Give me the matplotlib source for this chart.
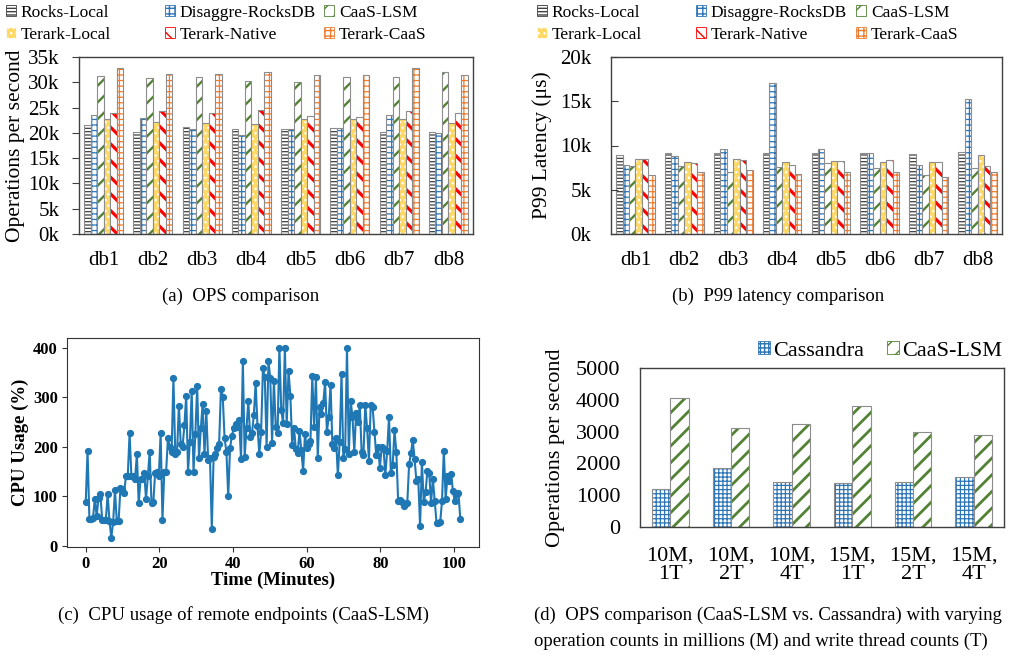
import numpy as np
import matplotlib
matplotlib.use('Agg')
import matplotlib.pyplot as plt
from matplotlib.patches import Patch
from matplotlib.ticker import FuncFormatter

plt.rcParams['font.family'] = ['Liberation Serif', 'DejaVu Serif']
plt.rcParams['hatch.linewidth'] = 1.0

# ---------------- data ----------------
dbs = ['db1', 'db2', 'db3', 'db4', 'db5', 'db6', 'db7', 'db8']
series_names = ['Rocks-Local', 'Disaggre-RocksDB', 'CaaS-LSM',
                'Terark-Local', 'Terark-Native', 'Terark-CaaS']

ops_rocks_local = [21600, 20200, 21100, 20700, 20700, 20900, 20200, 20100]
ops_disaggre = [23500, 23000, 20700, 19600, 20700, 20900, 23500, 19900]
ops_caas_lsm = [31200, 30800, 31000, 30200, 30100, 31000, 31000, 32100]
ops_terark_local = [22700, 22200, 22000, 21800, 22700, 22700, 22700, 22000]
ops_terark_native = [23900, 24300, 23900, 24600, 23400, 23200, 24400, 23900]
ops_terark_caas = [32900, 31700, 31600, 32100, 31400, 31400, 32900, 31400]

lat_rocks_local = [8950, 9200, 9140, 9180, 9180, 9140, 9030, 9250]
lat_disaggre = [7830, 8840, 9590, 17100, 9590, 9140, 7830, 15300]
lat_caas_lsm = [7700, 7640, 7040, 7570, 8000, 7420, 6700, 7490]
lat_terark_local = [8460, 8090, 8460, 8130, 8240, 8090, 8160, 8950]
lat_terark_native = [8460, 7980, 8310, 7830, 8240, 8350, 8160, 7720]
lat_terark_caas = [6630, 7040, 7270, 6820, 7040, 7040, 6440, 6970]

cpu_sample_interval_min = 0.496
cpu_usage = [88, 192, 55, 55, 57, 95, 60, 97, 105, 53,
             52, 53, 104, 50, 17, 48, 112, 50, 50, 117,
             115, 107, 140, 140, 227, 140, 140, 135, 185, 86,
             135, 135, 148, 95, 140, 190, 86, 88, 148, 150,
             140, 227, 53, 150, 150, 217, 200, 190, 338, 185,
             190, 283, 205, 200, 243, 303, 150, 210, 313, 150,
             225, 323, 178, 237, 287, 185, 273, 173, 178, 35,
             180, 185, 197, 205, 316, 300, 217, 190, 100, 198,
             222, 237, 245, 240, 253, 175, 373, 180, 238, 292,
             220, 227, 263, 328, 242, 185, 230, 358, 340, 200,
             372, 338, 207, 332, 240, 228, 400, 275, 248, 400,
             245, 352, 303, 203, 238, 195, 187, 232, 193, 152,
             225, 197, 205, 212, 342, 240, 340, 177, 280, 265,
             288, 330, 230, 260, 325, 205, 197, 218, 142, 210,
             347, 177, 195, 400, 185, 293, 260, 190, 268, 250,
             285, 190, 183, 285, 237, 172, 285, 280, 230, 183,
             200, 158, 200, 195, 143, 192, 260, 148, 163, 233,
             190, 90, 92, 88, 80, 85, 87, 165, 187, 213,
             175, 130, 135, 40, 170, 88, 108, 152, 147, 87,
             135, 90, 47, 47, 48, 90, 192, 95, 140, 130,
             145, 110, 90, 105, 107, 55]

workloads = ['10M,\n1T', '10M,\n2T', '10M,\n4T', '15M,\n1T', '15M,\n2T', '15M,\n4T']
cassandra_ops = [1190, 1840, 1430, 1370, 1430, 1570]
caas_lsm_ops = [4070, 3100, 3250, 3810, 3000, 2890]

# ---------------- styles ----------------
W, H = 1023, 656
styles = [
    dict(face='white', hatch='-----', hc='#404040', hlw=0.9),
    dict(face='white', hatch='+++', hc='#2E75B6', hlw=0.9),
    dict(face='white', hatch='//', hc='#548235', hlw=1.7),
    dict(face='#FFD966', hatch='...', hc='white', hlw=1.0),
    dict(face='white', hatch='\\\\', hc='#FF0000', hlw=2.3),
    dict(face='white', hatch='+++', hc='#ED7D31', hlw=0.9),
]
EDGE = '#8c8c8c'
SPINE = '#404040'


def px_axes(left, top, right, bottom):
    return fig.add_axes([left / W, 1 - bottom / H, (right - left) / W, (bottom - top) / H])


def set_hlw(patches, lw):
    for p in patches:
        try:
            p.set_hatch_linewidth(lw)
        except AttributeError:
            pass


def hbar(ax, x, h, w, face, hatch, hc, hlw):
    with plt.rc_context({'hatch.linewidth': hlw}):
        bars = ax.bar(x, h, w, color=face, edgecolor=hc, hatch=hatch, linewidth=0)
    set_hlw(bars, hlw)
    ax.bar(x, h, w, fill=False, edgecolor=EDGE, linewidth=0.8)


def proxy(st):
    with plt.rc_context({'hatch.linewidth': st['hlw']}):
        p = Patch(facecolor=st['face'], edgecolor=st['hc'], hatch=st['hatch'], linewidth=0.6)
    set_hlw([p], st['hlw'])
    return p


def column_legends(xs, y_top, fs):
    for c, xp in enumerate(xs):
        idx = [c, c + 3]
        fig.legend([proxy(styles[i]) for i in idx], [series_names[i] for i in idx],
                   loc='upper left', bbox_to_anchor=(xp / W, 1 - y_top / H),
                   frameon=False, fontsize=fs, handlelength=0.6, handleheight=0.6,
                   handletextpad=0.25, borderpad=0, borderaxespad=0, labelspacing=0.35)


def style_bar_axes(ax):
    for s in ax.spines.values():
        s.set_color(SPINE)
        s.set_linewidth(1.0)


fig = plt.figure(figsize=(W / 100, H / 100), dpi=100)

kfmt = FuncFormatter(lambda v, p: f'{int(round(v / 1000))}k')

# ---------------- (a) ----------------
ax = px_axes(79, 57, 473, 234)
x = np.arange(len(dbs))
bw = 0.132
ops_all = [ops_rocks_local, ops_disaggre, ops_caas_lsm,
           ops_terark_local, ops_terark_native, ops_terark_caas]
for i, vals in enumerate(ops_all):
    hbar(ax, x + (i - 2.5) * bw, vals, bw, **styles[i])
ax.set_xlim(-0.5, len(dbs) - 0.5)
ax.set_ylim(0, 35000)
ax.set_yticks(np.arange(0, 35001, 5000))
ax.yaxis.set_major_formatter(kfmt)
ax.set_xticks(x)
ax.set_xticklabels(dbs)
ax.tick_params(axis='x', length=0, pad=12, labelsize=15)
ax.tick_params(axis='y', direction='out', length=5, pad=9, labelsize=15, color=SPINE)
ax.set_ylabel('Operations per second', fontsize=15.5, labelpad=2)
style_bar_axes(ax)
column_legends([6, 165, 324], 5, 12.5)

# ---------------- (b) ----------------
ax = px_axes(611, 57, 1002, 234)
lat_all = [lat_rocks_local, lat_disaggre, lat_caas_lsm,
           lat_terark_local, lat_terark_native, lat_terark_caas]
for i, vals in enumerate(lat_all):
    hbar(ax, x + (i - 2.5) * bw, vals, bw, **styles[i])
ax.set_xlim(-0.5, len(dbs) - 0.5)
ax.set_ylim(0, 20000)
ax.set_yticks(np.arange(0, 20001, 5000))
ax.yaxis.set_major_formatter(kfmt)
ax.set_xticks(x)
ax.set_xticklabels(dbs)
ax.tick_params(axis='x', length=0, pad=12, labelsize=15)
ax.tick_params(axis='y', direction='in', length=5, pad=14, labelsize=15, color=SPINE)
ax.set_ylabel('P99 Latency (\u03bcs)', fontsize=15.5, labelpad=6)
style_bar_axes(ax)
column_legends([537, 696, 856], 5, 12.5)

# ---------------- (c) ----------------
ax = px_axes(67, 338, 479, 547)
t = np.arange(len(cpu_usage)) * cpu_sample_interval_min
ax.plot(t, cpu_usage, '-o', color='#1f77b4', markersize=4.2, linewidth=1.5)
ax.set_xticks([0, 20, 40, 60, 80, 100])
ax.set_yticks([0, 100, 200, 300, 400])
ax.tick_params(labelsize=12, color='#333333', pad=3)
for lab in ax.get_xticklabels() + ax.get_yticklabels():
    lab.set_fontweight('bold')
ax.set_xlabel('Time (Minutes)', fontsize=13.5, fontweight='bold', labelpad=0)
ax.set_ylabel('CPU Usage (%)', fontsize=13.5, fontweight='bold', labelpad=3)
for s in ax.spines.values():
    s.set_color('#333333')

# ---------------- (d) ----------------
ax = px_axes(640, 368, 1004, 527)
xd = np.arange(len(workloads))
wd = 0.3
st_cass = dict(face='white', hatch='++++', hc='#2E75B6', hlw=0.9)
st_caas = dict(face='white', hatch='//', hc='#548235', hlw=2.0)
hbar(ax, xd - wd / 2, cassandra_ops, wd, **st_cass)
hbar(ax, xd + wd / 2, caas_lsm_ops, wd, **st_caas)
ax.set_xlim(-0.5, len(workloads) - 0.5)
ax.set_ylim(0, 5000)
ax.set_yticks(np.arange(0, 5001, 1000))
ax.set_xticks(xd)
ax.set_xticklabels(workloads, linespacing=1.0)
ax.tick_params(axis='x', length=0, pad=14, labelsize=16)
ax.tick_params(axis='y', length=0, pad=14, labelsize=16)
ax.set_ylabel('Operations per second', fontsize=16, labelpad=8)
style_bar_axes(ax)
fig.legend([proxy(st_cass), proxy(st_caas)], ['Cassandra', 'CaaS-LSM'],
           loc='upper left', bbox_to_anchor=(758 / W, 1 - 341 / H), ncol=2,
           frameon=False, fontsize=16, handlelength=0.55, handleheight=0.55,
           handletextpad=0.15, columnspacing=1.0, borderpad=0, borderaxespad=0)

# ---------------- captions ----------------
cap_fs = 13.5
fig.text(241 / W, 1 - 296 / H, '(a)  OPS comparison', ha='center', va='center', fontsize=cap_fs)
fig.text(778 / W, 1 - 296 / H, '(b)  P99 latency comparison', ha='center', va='center', fontsize=cap_fs)
fig.text(244 / W, 1 - 615 / H, '(c)  CPU usage of remote endpoints (CaaS-LSM)', ha='center', va='center', fontsize=cap_fs)
fig.text(534 / W, 1 - 615 / H, '(d)  OPS comparison (CaaS-LSM vs. Cassandra) with varying',
         ha='left', va='center', fontsize=cap_fs)
fig.text(534 / W, 1 - 641 / H, 'operation counts in millions (M) and write thread counts (T)',
         ha='left', va='center', fontsize=cap_fs)

fig.savefig('out.png', dpi=100)
